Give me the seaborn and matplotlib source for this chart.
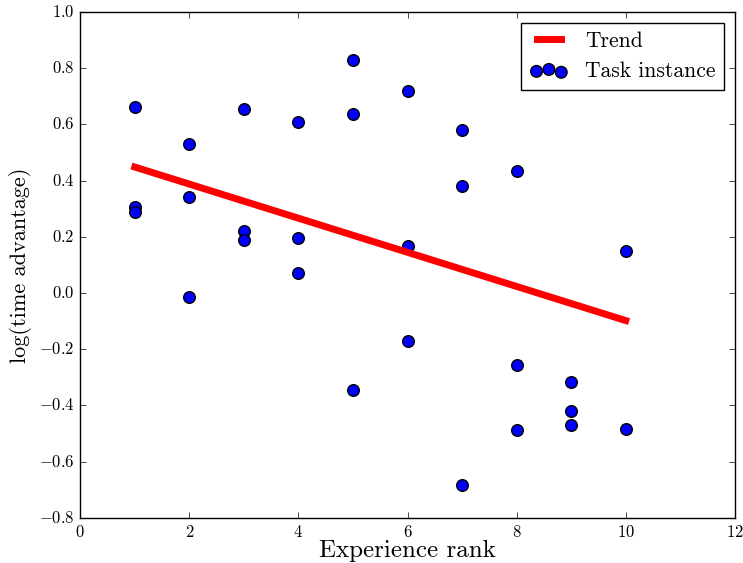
import matplotlib
matplotlib.use("Agg")
import matplotlib.pyplot as plt
import seaborn as sns
import pandas as pd

# --- DATA ---
rank = [1, 1, 1, 2, 2, 2, 3, 3, 3, 4, 4, 4, 5, 5, 5, 6, 6, 6,
        7, 7, 7, 8, 8, 8, 9, 9, 9, 10, 10]
log_adv = [0.662, 0.306, 0.288, 0.530, 0.342, -0.014, 0.655, 0.222, 0.189,
           0.608, 0.197, 0.071, 0.830, 0.638, -0.344, 0.717, 0.167, -0.169,
           0.580, 0.379, -0.682, 0.434, -0.257, -0.488, -0.318, -0.420, -0.468,
           0.148, -0.484]
trend_x = [1, 10]
trend_y = [0.448, -0.098]

df = pd.DataFrame({"rank": rank, "log_adv": log_adv})
trend = pd.DataFrame({"rank": trend_x, "log_adv": trend_y})

# --- STYLE ---
plt.style.use("classic")
plt.rcParams["font.family"] = "serif"
plt.rcParams["font.serif"] = ["cmr10", "DejaVu Serif"]
plt.rcParams["mathtext.fontset"] = "cm"
plt.rcParams["axes.formatter.use_mathtext"] = True
plt.rcParams["axes.unicode_minus"] = True

fig = plt.figure(figsize=(7.43, 5.63), dpi=100, facecolor="white")
ax = fig.add_axes([0.108, 0.080, 0.881, 0.899])

# points sit under the trend line
sns.scatterplot(data=df, x="rank", y="log_adv", color="blue", edgecolor="black",
                linewidth=1, s=70, label="Task instance", ax=ax, zorder=2)
sns.lineplot(data=trend, x="rank", y="log_adv", color="red", linewidth=5,
             label="Trend", ax=ax, zorder=3)

ax.set_xlim(0, 12)
ax.set_ylim(-0.8, 1.0)
ax.set_xlabel("Experience rank", fontsize=18, labelpad=0)
ax.set_ylabel("log(time advantage)", fontsize=16)
ax.tick_params(labelsize=12)

handles, labels = ax.get_legend_handles_labels()
order = [labels.index("Trend"), labels.index("Task instance")]
ax.legend([handles[i] for i in order], [labels[i] for i in order],
          loc="upper right", fontsize=15.5, scatterpoints=3, fancybox=False,
          frameon=True, handlelength=1.75, borderaxespad=0.5)

fig.savefig("out.png", dpi=100, facecolor="white")
